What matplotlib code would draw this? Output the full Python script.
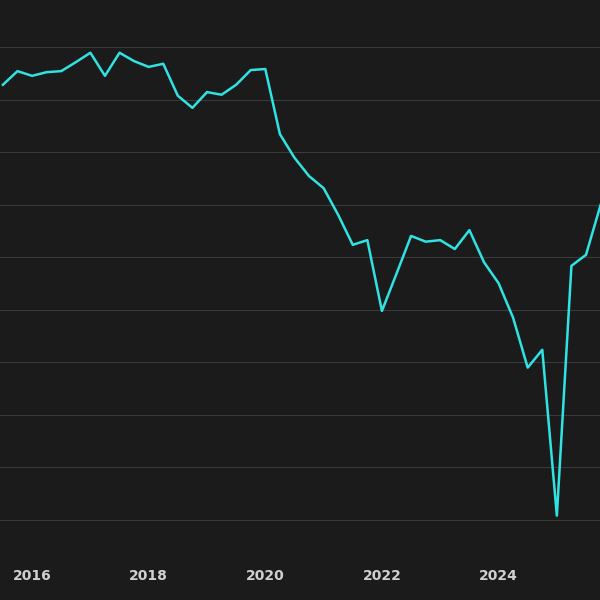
import numpy as np
import matplotlib
matplotlib.use("Agg")
import matplotlib.pyplot as plt

BG = "#1b1b1b"
GRID = "#3a3a3a"
LINE = "#2fe3e3"
TEXT = "#d0d0d0"

start_year = 2015.5
values = [8.29, 8.55, 8.46, 8.53, 8.55, 8.72, 8.90, 8.46, 8.90, 8.74, 8.63, 8.69,
          8.08, 7.85, 8.15, 8.10, 8.29, 8.57, 8.59, 7.35, 6.90, 6.55, 6.32, 5.81,
          5.24, 5.33, 3.98, 4.69, 5.41, 5.30, 5.33, 5.16, 5.52, 4.91, 4.51, 3.85,
          2.90, 3.24, 0.08, 4.84, 5.05, 6.00]
years = [start_year + 0.25 * i for i in range(len(values))]
xticks = [2016, 2018, 2020, 2022, 2024]

fig = plt.figure(figsize=(6, 6), dpi=100, facecolor=BG)
ax = fig.add_axes([0, 0.047, 1, 0.953])
ax.set_facecolor(BG)
ax.plot(years, values, color=LINE, linewidth=1.8)
ax.set_xlim(2015.45, 2025.74)
ax.set_ylim(-0.99, 9.905)
ax.set_yticks(range(0, 10))
ax.set_xticks(xticks)
ax.set_xticklabels([str(t) for t in xticks], color=TEXT, fontsize=10, fontweight="bold")
ax.tick_params(axis="x", length=0, pad=-2)
ax.tick_params(axis="y", length=0, labelleft=False)
ax.grid(axis="y", color=GRID, linewidth=0.8)
ax.set_axisbelow(True)
for s in ax.spines.values():
    s.set_visible(False)
fig.savefig("out.png", dpi=100, facecolor=BG)
